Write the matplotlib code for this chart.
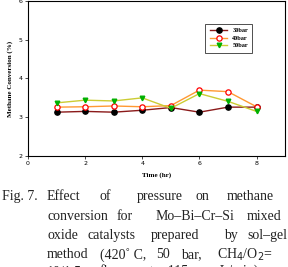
import matplotlib
matplotlib.use("Agg")
import matplotlib.pyplot as plt

time_hr = [1, 2, 3, 4, 5, 6, 7, 8]
conv_30bar = [3.13, 3.15, 3.13, 3.18, 3.25, 3.13, 3.26, 3.26]
conv_40bar = [3.26, 3.27, 3.29, 3.27, 3.30, 3.70, 3.66, 3.27]
conv_50bar = [3.37, 3.44, 3.42, 3.50, 3.23, 3.61, 3.41, 3.15]
series_labels = ["30bar", "40bar", "50bar"]
x_ticks = [0, 2, 4, 6, 8]
y_ticks = [2, 3, 4, 5, 6]

caption_lines = [
    ["Fig. 7.", "Effect", "of", "pressure", "on", "methane"],
    ["conversion", "for", "Mo\u2013Bi\u2013Cr\u2013Si", "mixed"],
    ["oxide", "catalysts", "prepared", "by", "sol\u2013gel"],
    ["method", "(420\u02da C,", "50", "bar,", "CH$_4$/O$_2$="],
    ["10/1.5,", "flow", "rate=115", "mL/min)"],
]

fig = plt.figure(figsize=(2.88, 2.67), dpi=100)
ax = fig.add_axes([0.097, 0.416, 0.893, 0.58])

ax.plot(time_hr, conv_30bar, color="#8b1a1a", lw=1, marker="o", ms=3.8,
        mfc="black", mec="black", label=series_labels[0])
ax.plot(time_hr, conv_40bar, color="#ff9933", lw=1, marker="o", ms=3.8,
        mfc="white", mec="red", mew=0.9, label=series_labels[1])
ax.plot(time_hr, conv_50bar, color="#cccc33", lw=1, marker="v", ms=3.3,
        mfc="#00b000", mec="#00b000", label=series_labels[2])

ax.set_xlim(0, 9)
ax.set_ylim(2, 6)
ax.set_xticks(x_ticks)
ax.set_yticks(y_ticks)
ax.tick_params(labelsize=4.5, length=2, width=0.5, pad=2)
for s in ax.spines.values():
    s.set_linewidth(0.8)

ax.set_xlabel("Time (hr)", fontsize=5, fontweight="bold", family="Liberation Serif", labelpad=4)
ax.set_ylabel("Methane Conversion (%)", fontsize=5, fontweight="bold", family="Liberation Serif", labelpad=4)

leg = ax.legend(loc="upper right", bbox_to_anchor=(0.885, 0.875),
                prop={"family": "Liberation Serif", "weight": "bold", "size": 4.5},
                frameon=True, fancybox=False, edgecolor="black", handlelength=2.8,
                borderpad=0.7, labelspacing=0.35)
leg.get_frame().set_linewidth(0.6)

# caption, word start positions in pixels to mimic justified text
word_x = [
    [2, 47, 100, 137, 196, 227],
    [47, 117, 156, 247],
    [47, 88, 151, 224, 247],
    [47, 100, 156, 181, 217],
    [47, 100, 140, 210],
]
baselines = [200, 219.5, 239, 258.5, 275]
for words, xs, yb in zip(caption_lines, word_x, baselines):
    for w, xp in zip(words, xs):
        fig.text(xp / 288, 1 - yb / 267, w, fontsize=10, family="Liberation Serif",
                 color="#222222", va="baseline", ha="left")

fig.savefig("out.png", dpi=100)
